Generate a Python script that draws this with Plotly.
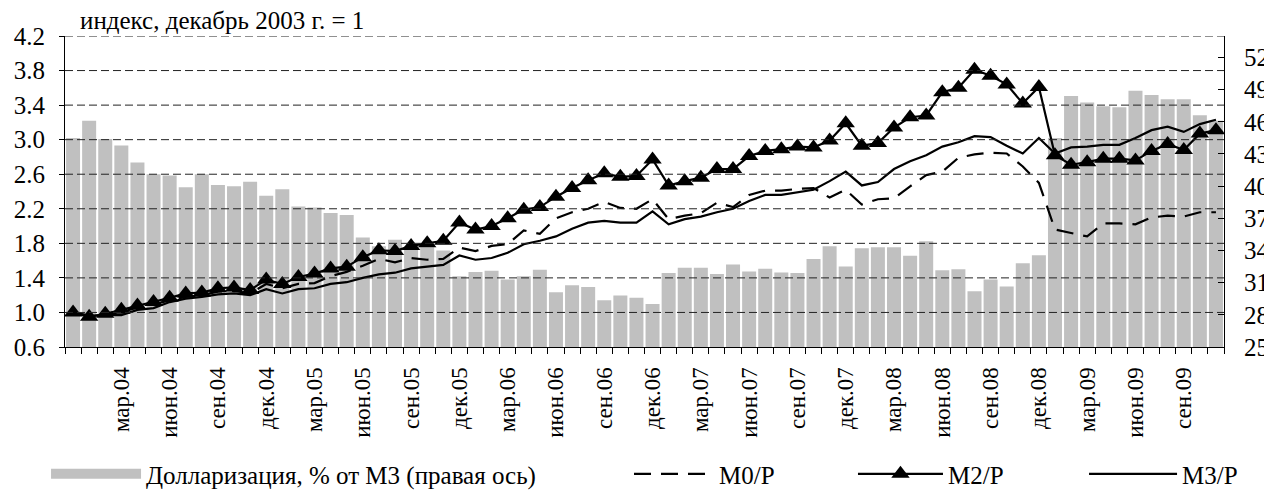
import plotly.graph_objects as go

# ---------------- data ----------------
month_names = ["янв", "фев", "мар", "апр", "май", "июн", "июл", "авг", "сен", "окт", "ноя", "дек"]
categories = ["дек.03"] + [f"{m}.{y:02d}" for y in range(4, 10) for m in month_names][:71]

tick_labels = ["мар.04", "июн.04", "сен.04", "дек.04", "мар.05", "июн.05", "сен.05", "дек.05",
               "мар.06", "июн.06", "сен.06", "дек.06", "мар.07", "июн.07", "сен.07", "дек.07",
               "мар.08", "июн.08", "сен.08", "дек.08", "мар.09", "июн.09", "сен.09"]

dollarization = [44.5, 46.1, 44.4, 43.8, 42.2, 41.1, 41.0, 39.9, 41.1, 40.1, 40.0, 40.4,
                 39.1, 39.7, 38.1, 38.0, 37.5, 37.3, 35.2, 34.4, 35.0, 34.4, 34.3, 34.0,
                 31.6, 32.0, 32.1, 31.3, 31.6, 32.2, 30.1, 30.75, 30.6, 29.35, 29.8, 29.6,
                 29.0, 31.9, 32.4, 32.4, 31.8, 32.7, 32.05, 32.3, 31.95, 31.9, 33.2, 34.4,
                 32.5, 34.2, 34.3, 34.3, 33.5, 34.85, 32.15, 32.25, 30.2, 31.3, 30.65, 32.8,
                 33.55, 44.5, 48.4, 47.8, 47.45, 47.35, 48.9, 48.5, 48.1, 48.1, 46.6, 46.1]

m0_p = [1.00, 0.96, 0.97, 1.00, 1.06, 1.09, 1.14, 1.18, 1.20, 1.24, 1.25, 1.22,
        1.33, 1.28, 1.33, 1.34, 1.42, 1.47, 1.54, 1.62, 1.58, 1.63, 1.61, 1.62,
        1.75, 1.71, 1.77, 1.79, 1.95, 1.91, 2.09, 2.16, 2.20, 2.28, 2.21, 2.20,
        2.31, 2.08, 2.12, 2.15, 2.27, 2.22, 2.36, 2.41, 2.41, 2.43, 2.44, 2.33,
        2.42, 2.25, 2.31, 2.32, 2.46, 2.59, 2.63, 2.79, 2.83, 2.85, 2.84, 2.69,
        2.50, 1.96, 1.92, 1.88, 2.03, 2.03, 2.02, 2.10, 2.12, 2.11, 2.16, 2.16]

m2_p = [1.00, 0.95, 0.985, 1.03, 1.08, 1.12, 1.17, 1.22, 1.23, 1.28, 1.29, 1.26,
        1.38, 1.33, 1.41, 1.45, 1.51, 1.53, 1.64, 1.72, 1.71, 1.77, 1.80, 1.83,
        2.04, 1.96, 2.00, 2.09, 2.19, 2.22, 2.34, 2.44, 2.53, 2.61, 2.57, 2.58,
        2.77, 2.47, 2.52, 2.56, 2.66, 2.66, 2.81, 2.87, 2.89, 2.92, 2.91, 2.99,
        3.19, 2.93, 2.96, 3.14, 3.26, 3.28, 3.55, 3.60, 3.81, 3.74, 3.64, 3.42,
        3.61, 2.82, 2.71, 2.74, 2.78, 2.78, 2.76, 2.87, 2.95, 2.88, 3.07, 3.11]

m3_p = [1.00, 0.96, 0.97, 0.97, 1.03, 1.05, 1.12, 1.16, 1.18, 1.21, 1.22, 1.20,
        1.27, 1.22, 1.27, 1.28, 1.33, 1.35, 1.40, 1.44, 1.46, 1.51, 1.53, 1.55,
        1.66, 1.61, 1.63, 1.69, 1.79, 1.83, 1.88, 1.97, 2.04, 2.06, 2.04, 2.04,
        2.17, 2.02, 2.08, 2.11, 2.16, 2.20, 2.29, 2.36, 2.36, 2.39, 2.42, 2.52,
        2.63, 2.47, 2.51, 2.66, 2.75, 2.82, 2.92, 2.97, 3.04, 3.03, 2.93, 2.84,
        3.02, 2.84, 2.91, 2.92, 2.94, 2.94, 3.02, 3.11, 3.15, 3.09, 3.18, 3.23]

left_ticks = [0.6, 1.0, 1.4, 1.8, 2.2, 2.6, 3.0, 3.4, 3.8, 4.2]
right_ticks = [25, 28, 31, 34, 37, 40, 43, 46, 49, 52]

bar_name = "Долларизация, % от М3 (правая ось)"

# ---------------- figure ----------------
FONT = "Liberation Serif"
FS = 25        # horizontal texts
FS_X = 23      # rotated month labels
BAR_COLOR = "#c0c0c0"
x_idx = list(range(len(categories)))
tick_pos = [categories.index(t) for t in tick_labels]

fig = go.Figure()

fig.add_trace(go.Bar(
    x=x_idx, y=dollarization, yaxis="y", name=bar_name,
    marker=dict(color=BAR_COLOR, line=dict(width=0)),
    showlegend=False,
))
# legend entry for the bars: wide grey swatch, as in the original
fig.add_trace(go.Scatter(
    x=[None], y=[None], yaxis="y", mode="lines", name=bar_name,
    line=dict(color=BAR_COLOR, width=12), legend="legend", showlegend=True,
    hoverinfo="skip",
))
fig.add_trace(go.Scatter(
    x=x_idx, y=m0_p, yaxis="y2", mode="lines", name="M0/P",
    line=dict(color="black", width=2.2, dash="17px,10px"),
    legend="legend2", showlegend=True,
))
fig.add_trace(go.Scatter(
    x=x_idx, y=m2_p, yaxis="y2", mode="lines+markers", name="M2/P",
    line=dict(color="black", width=2.2),
    marker=dict(symbol="triangle-up", size=16, color="black"),
    legend="legend3", showlegend=True,
))
fig.add_trace(go.Scatter(
    x=x_idx, y=m3_p, yaxis="y2", mode="lines", name="M3/P",
    line=dict(color="black", width=2.2),
    legend="legend4", showlegend=True,
))

# dashed horizontal gridlines drawn above the bars (as in the original)
for v in left_ticks[1:]:
    fig.add_shape(type="line", xref="paper", x0=0, x1=1, yref="y2", y0=v, y1=v,
                  line=dict(color="#222222", width=1, dash="8px,4px"), layer="above")

leg_common = dict(orientation="h", xref="container", yref="container", y=0.004,
                  xanchor="left", yanchor="bottom", font=dict(family=FONT, size=FS),
                  bgcolor="rgba(0,0,0,0)", tracegroupgap=0)

fig.update_layout(
    width=1264, height=491,
    margin=dict(l=57, r=48, t=28, b=152, autoexpand=False),
    paper_bgcolor="white", plot_bgcolor="white",
    font=dict(family=FONT, size=FS, color="black"),
    showlegend=True,
    bargap=0.13,
    xaxis=dict(
        range=[-0.5, len(categories) - 0.5], automargin=False,
        tickvals=tick_pos, ticktext=tick_labels, tickangle=-90,
        ticks="", showgrid=False, zeroline=False,
        showline=True, linecolor="black", linewidth=1,
        ticklabelstandoff=10,
        minor=dict(ticks="outside", ticklen=6, tickcolor="black", tick0=-0.5, dtick=1, showgrid=False),
        tickfont=dict(family=FONT, size=FS_X),
    ),
    yaxis=dict(
        side="right", range=[25, 54], tickvals=right_ticks, automargin=False,
        ticks="inside", ticklen=6, tickcolor="black",
        showgrid=False, zeroline=False,
        showline=True, linecolor="black", linewidth=1,
        ticklabelstandoff=14,
        tickfont=dict(family=FONT, size=FS),
    ),
    yaxis2=dict(
        overlaying="y", side="left", range=[0.6, 4.2], tickvals=left_ticks, automargin=False,
        tickformat=".1f", ticks="outside", ticklen=5, tickcolor="black",
        showgrid=False, zeroline=False,
        showline=True, linecolor="black", linewidth=1,
        ticklabelstandoff=9,
        tickfont=dict(family=FONT, size=FS),
    ),
    legend=dict(leg_common, x=0.0301, itemwidth=90),
    legend2=dict(leg_common, x=0.4913, itemwidth=80),
    legend3=dict(leg_common, x=0.6685, itemwidth=85),
    legend4=dict(leg_common, x=0.8513, itemwidth=88),
    annotations=[dict(text="индекс, декабрь 2003 г. = 1", xref="paper", yref="paper",
                      x=0.011, y=1.051, xanchor="left", yanchor="middle", showarrow=False,
                      font=dict(family=FONT, size=FS))],
)

fig.write_html("out.html")
